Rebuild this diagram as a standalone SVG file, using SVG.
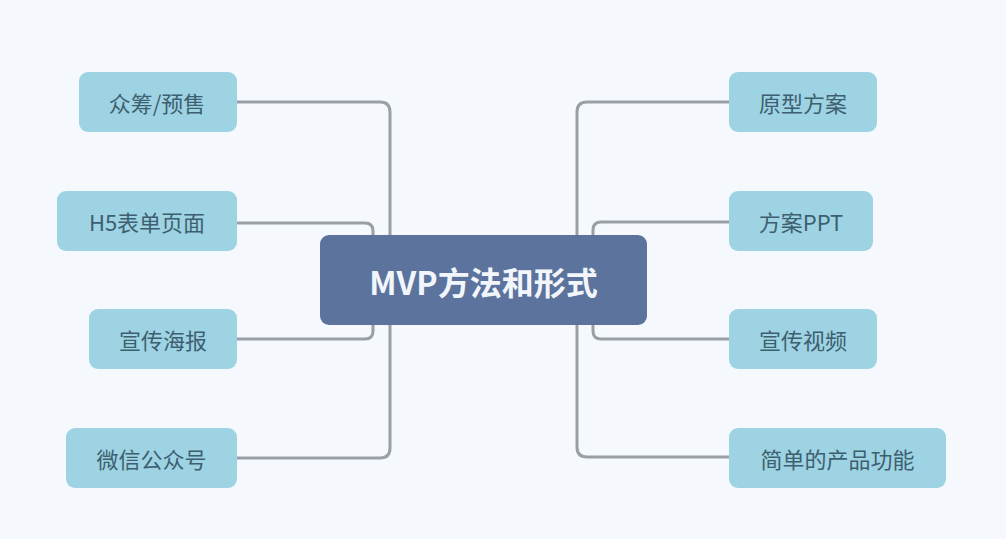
<svg xmlns="http://www.w3.org/2000/svg" width="1006" height="539" viewBox="0 0 1006 539">
<style>
.bg{fill:#f5f9fe}
.node rect{fill:#9dd3e3;stroke:none}
.node text{font-family:"Noto Sans CJK SC","Noto Sans",sans-serif;font-size:22px;fill:#3e5f70;text-anchor:middle;dominant-baseline:central}
.center rect{fill:#5b739d}
.center text{font-family:"Noto Sans CJK SC","Noto Sans",sans-serif;font-size:32px;font-weight:bold;fill:#f2f6fb;text-anchor:middle;dominant-baseline:central}
.conn path{fill:none;stroke:#9a9fa5;stroke-width:3;stroke-linecap:round}
</style>
<rect class="bg" x="0" y="0" width="1006" height="539"/>
<g id="connectors" class="conn">
<path d="M237 102 H380 Q390 102 390 112 V448 Q390 458 380 458 H237"/>
<path d="M237 223 H365 Q373 223 373 231 V240"/>
<path d="M237 339 H365 Q373 339 373 331 V320"/>
<path d="M729 102 H587 Q577 102 577 112 V447 Q577 457 587 457 H729"/>
<path d="M729 222 H601 Q593 222 593 230 V240"/>
<path d="M729 339 H601 Q593 339 593 331 V320"/>
</g>
<g id="center" class="center">
<rect x="320" y="235" width="327" height="90" rx="9"/>
<text x="483.5" y="281">MVP方法和形式</text>
</g>
<g id="n-zhongchou" class="node">
<rect x="79" y="72" width="158" height="60" rx="9"/>
<text x="157" y="102">众筹/预售</text>
</g>
<g id="n-h5" class="node">
<rect x="57" y="191" width="180" height="60" rx="9"/>
<text x="147" y="221">H5表单页面</text>
</g>
<g id="n-haibao" class="node">
<rect x="89" y="309" width="148" height="60" rx="9"/>
<text x="163" y="339">宣传海报</text>
</g>
<g id="n-weixin" class="node">
<rect x="66" y="428" width="171" height="60" rx="9"/>
<text x="151.5" y="458">微信公众号</text>
</g>
<g id="n-yuanxing" class="node">
<rect x="729" y="72" width="148" height="60" rx="9"/>
<text x="803" y="102">原型方案</text>
</g>
<g id="n-ppt" class="node">
<rect x="729" y="191" width="144" height="60" rx="9"/>
<text x="801" y="221">方案PPT</text>
</g>
<g id="n-shipin" class="node">
<rect x="729" y="309" width="148" height="60" rx="9"/>
<text x="803" y="339">宣传视频</text>
</g>
<g id="n-gongneng" class="node">
<rect x="729" y="428" width="217" height="60" rx="9"/>
<text x="837.5" y="458">简单的产品功能</text>
</g>
</svg>
